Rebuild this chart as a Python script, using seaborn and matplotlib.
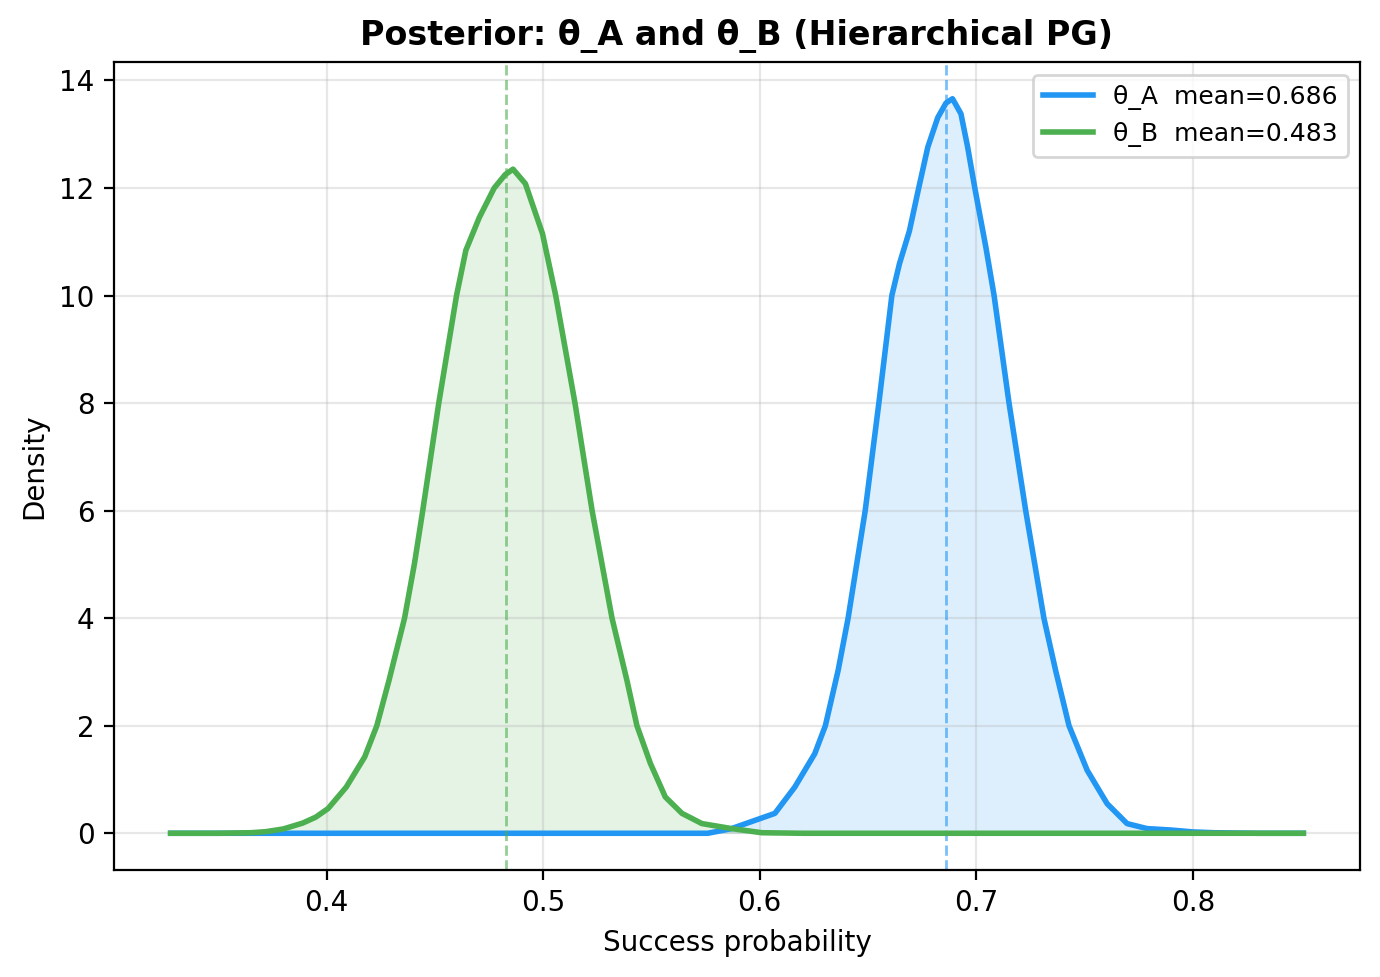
import matplotlib
matplotlib.use("Agg")
import matplotlib.pyplot as plt
import seaborn as sns
import numpy as np

# ---- data (posterior density curves) ----
theta_a_x = [0.328, 0.500, 0.576, 0.587, 0.5978, 0.607, 0.6162, 0.6254, 0.6303, 0.6362,
             0.6408, 0.6487, 0.6550, 0.6580, 0.6610, 0.6645, 0.6691, 0.6734, 0.6776,
             0.6822, 0.6860, 0.6890, 0.6929, 0.6960, 0.6993, 0.7044, 0.7082, 0.7151, 0.7228,
             0.7312, 0.7366, 0.7428, 0.7512, 0.7604, 0.7696, 0.7788, 0.790, 0.800, 0.810,
             0.830, 0.851]
theta_a_y = [0.0, 0.0, 0.0, 0.087, 0.24, 0.37, 0.86, 1.48, 2.0, 3.03,
             4.0, 6.0, 8.0, 9.0, 10.0, 10.59, 11.2, 12.0, 12.76,
             13.31, 13.58, 13.66, 13.38, 12.76, 12.0, 10.9, 10.0, 8.0, 6.0,
             4.0, 3.03, 2.0, 1.17, 0.55, 0.18, 0.087, 0.06, 0.025, 0.01,
             0.0, 0.0]

theta_b_x = [0.328, 0.350, 0.365, 0.372, 0.380, 0.389, 0.395, 0.4007, 0.4091, 0.4176,
             0.4232, 0.4288, 0.4360, 0.4406, 0.4444, 0.4518, 0.4600, 0.4643, 0.4705,
             0.4774, 0.4825, 0.4861, 0.4918, 0.4997, 0.5058, 0.5147, 0.5226, 0.5318, 0.5387,
             0.5433, 0.5495, 0.5564, 0.5641, 0.5733, 0.587, 0.601, 0.620, 0.700, 0.851]
theta_b_y = [0.0, 0.0, 0.01, 0.03, 0.08, 0.19, 0.30, 0.46, 0.86, 1.42,
             2.0, 2.84, 4.0, 5.02, 6.0, 8.0, 10.0, 10.84, 11.45,
             12.0, 12.25, 12.35, 12.08, 11.15, 10.0, 8.0, 6.0, 4.0, 2.84,
             2.0, 1.30, 0.675, 0.37, 0.18, 0.087, 0.01, 0.0, 0.0, 0.0]

mean_a = 0.686
mean_b = 0.483
series_names = ["θ_A", "θ_B"]
colors = ["#2196F3", "#4CAF50"]

fig = plt.figure(figsize=(6.9, 4.885), dpi=200)
ax = fig.add_axes([114 / 1380, 1 - 870 / 977, (1360 - 114) / 1380, (870 - 62) / 977])

series = [(theta_a_x, theta_a_y, mean_a), (theta_b_x, theta_b_y, mean_b)]
for (xs, ys, m), name, c in zip(series, series_names, colors):
    sns.lineplot(x=xs, y=ys, color=c, lw=2, ax=ax, label=f"{name}  mean={m:.3f}",
                 sort=False, estimator=None)
    ax.fill_between(xs, ys, color=c, alpha=0.15, lw=0)
    ax.axvline(m, color=c, ls="--", lw=1, alpha=0.6)

ax.grid(True, alpha=0.3)
ax.set_xticks([0.4, 0.5, 0.6, 0.7, 0.8])
ax.set_yticks([0, 2, 4, 6, 8, 10, 12, 14])
ax.tick_params(labelsize=10)
ax.set_xlabel("Success probability", fontsize=10)
ax.set_ylabel("Density", fontsize=10)
ax.set_title("Posterior: θ_A and θ_B (Hierarchical PG)", fontsize=12, fontweight="bold")
ax.legend(loc="upper right", fontsize=9)

fig.savefig("out.png", dpi=200)
